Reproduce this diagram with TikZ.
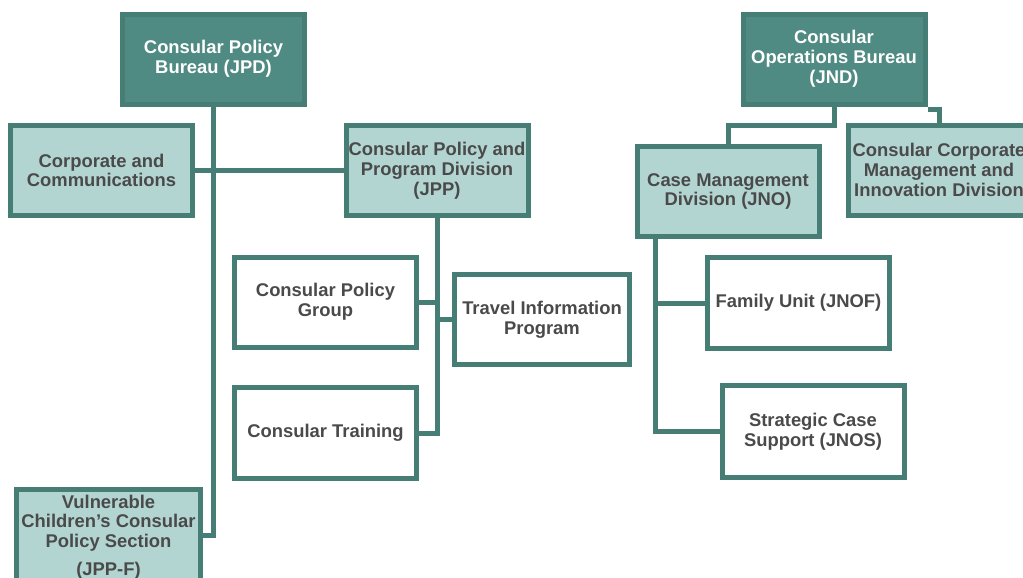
\documentclass[tikz,border=0pt]{standalone}
\usepackage{fontspec}
\setmainfont{Liberation Sans}
\usepackage{xcolor}
\definecolor{bureauteal}{HTML}{4F8A83}
\definecolor{paleteal}{HTML}{B3D5D2}
\definecolor{lineteal}{HTML}{467D75}
\definecolor{darktext}{HTML}{4A4A4A}

\begin{document}
\begin{tikzpicture}[x=0.5pt,y=-0.5pt,line join=miter,
  unit/.style={draw=lineteal,line width=2.5pt,inner sep=0pt,align=center,
    font=\fontsize{9.2}{9.9}\selectfont\bfseries,text=darktext,
    minimum width=91pt,minimum height=45pt},
  bureau/.style={unit,fill=bureauteal,text=white},
  division/.style={unit,fill=paleteal},
  group/.style={unit,fill=white},
  link/.style={draw=lineteal,line width=2.5pt}]
\useasboundingbox (0,0) rectangle (1023,578);

% policy bureau
\node[bureau] (jpd) at (213.5,59) {Consular Policy\\Bureau (JPD)};
\node[division] (cc) at (101.5,170.5) {Corporate and\\Communications};
\node[division] (jpp) at (437,170.5) {Consular Policy and\\Program Division\\(JPP)};
\node[group] (cpg) at (325.5,302) {Consular Policy\\Group};
\node[group,minimum width=87.5pt] (tip) at (542,319.5) {Travel Information\\Program};
\node[group,minimum height=45.5pt] (ct) at (325.5,433) {Consular Training};
\node[division,minimum width=92pt,minimum height=48pt] (vc) at (108.5,537) {Vulnerable\\Children’s Consular\\Policy Section\\[4pt](JPP-F)};

% operations bureau
\node[bureau] (jnd) at (834,59) {Consular\\Operations Bureau\\(JND)};
\node[division] (cmd) at (728,191.5) {Case Management\\Division (JNO)};
\node[division] (ccm) at (939,170) {Consular Corporate\\Management and\\Innovation Division};
\node[group,minimum height=45.5pt] (fu) at (798.5,303) {Family Unit (JNOF)};
\node[group,minimum height=46pt] (scs) at (813,431.5) {Strategic Case\\Support (JNOS)};

% reporting lines
\draw[link] (jpd.south) |- ([yshift=1pt]vc.east);
\draw[link] (cc.east) -- (jpp.west);
\draw[link] (jpp.south) |- (ct.east);
\draw[link] (cpg.east) -- (cpg.east -| jpp.south);
\draw[link] (tip.west) -- (tip.west -| jpp.south);
\draw[link] (jnd.south) -- ++(0,19) -| (cmd.north);
\draw[link] ([yshift=-1.5pt]jnd.south east) -| (ccm.north);
\coordinate (jnotrunk) at ([xshift=10.5pt]cmd.south west);
\draw[link] (jnotrunk) |- (scs.west);
\draw[link] (jnotrunk |- fu.west) -- (fu.west);
\end{tikzpicture}
\end{document}
